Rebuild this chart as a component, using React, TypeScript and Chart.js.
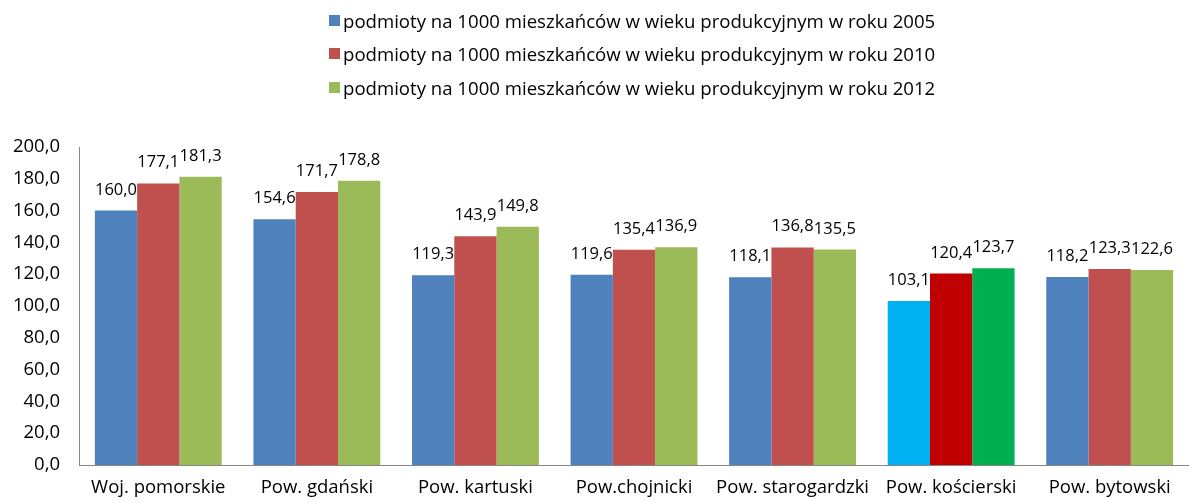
import React, { useEffect, useRef } from 'react';
import { Chart, registerables } from 'chart.js';

Chart.register(...registerables);

const categories = [
  'Woj. pomorskie',
  'Pow. gdański',
  'Pow. kartuski',
  'Pow.chojnicki',
  'Pow. starogardzki',
  'Pow. kościerski',
  'Pow. bytowski',
];
const values2005 = [160.0, 154.6, 119.3, 119.6, 118.1, 103.1, 118.2];
const values2010 = [177.1, 171.7, 143.9, 135.4, 136.8, 120.4, 123.3];
const values2012 = [181.3, 178.8, 149.8, 136.9, 135.5, 123.7, 122.6];
const seriesLabels = [
  'podmioty na 1000 mieszkańców w wieku produkcyjnym w roku 2005',
  'podmioty na 1000 mieszkańców w wieku produkcyjnym w roku 2010',
  'podmioty na 1000 mieszkańców w wieku produkcyjnym w roku 2012',
];
const baseColors = ['#4F81BD', '#C0504D', '#9BBB59'];
const highlightColors = ['#00B0F0', '#C00000', '#00B050'];
const highlightCategory = 'Pow. kościerski';
const yMin = 0;
const yMax = 200;
const yStep = 20;

const FONT = '"Open Sans", "Noto Sans", sans-serif';

const fmt = (v: number) => v.toFixed(1).replace('.', ',');

const valueLabelPlugin = {
  id: 'valueLabels',
  afterDatasetsDraw(chart: any) {
    const ctx = chart.ctx;
    ctx.save();
    ctx.font = `16.5px ${FONT}`;
    ctx.fillStyle = '#000000';
    ctx.textAlign = 'center';
    ctx.textBaseline = 'alphabetic';
    chart.data.datasets.forEach((ds: any, di: number) => {
      const meta = chart.getDatasetMeta(di);
      meta.data.forEach((el: any, i: number) => {
        ctx.fillText(fmt(ds.data[i]), el.x, el.y - 16);
      });
    });
    ctx.restore();
  },
};

export default function App() {
  const canvasRef = useRef<HTMLCanvasElement>(null);

  useEffect(() => {
    document.body.style.margin = '0';
    const canvas = canvasRef.current;
    if (!canvas) return;
    const seriesValues = [values2005, values2010, values2012];
    const chart = new Chart(canvas, {
      type: 'bar',
      data: {
        labels: categories,
        datasets: seriesValues.map((vals, si) => ({
          label: seriesLabels[si],
          data: vals,
          backgroundColor: categories.map((c) =>
            c === highlightCategory ? highlightColors[si] : baseColors[si]
          ),
          borderWidth: 0,
          categoryPercentage: 0.8,
          barPercentage: 1.0,
        })),
      },
      options: {
        responsive: false,
        animation: false,
        devicePixelRatio: 1,
        layout: { padding: { top: 147, left: 0, right: 0, bottom: 0 } },
        plugins: {
          legend: { display: false },
          tooltip: { enabled: false },
          title: { display: false },
        },
        scales: {
          x: {
            grid: { display: false, drawTicks: false },
            border: { display: true, color: '#868686', width: 1 },
            ticks: {
              color: '#000000',
              font: { family: FONT, size: 18.5 },
              padding: 12,
              maxRotation: 0,
              autoSkip: false,
            },
            afterFit: (scale: any) => {
              scale.height = 38;
            },
          },
          y: {
            min: yMin,
            max: yMax,
            grid: { display: false, drawTicks: false },
            border: { display: true, color: '#868686', width: 1 },
            ticks: {
              stepSize: yStep,
              color: '#000000',
              font: { family: FONT, size: 18.5 },
              padding: 19,
              callback: (v: any) => fmt(Number(v)),
            },
            afterFit: (scale: any) => {
              scale.width = 79;
            },
          },
        },
      },
      plugins: [valueLabelPlugin],
    });
    return () => chart.destroy();
  }, []);

  return (
    <div style={{ position: 'relative', width: 1189, height: 503, background: '#ffffff', overflow: 'hidden' }}>
      <canvas ref={canvasRef} width={1189} height={503} style={{ position: 'absolute', left: 0, top: 0 }} />
      <div style={{ position: 'absolute', left: 329, top: 6, fontFamily: FONT, fontSize: 18.6, color: '#000' }}>
        {seriesLabels.map((lab, i) => (
          <div key={lab} style={{ display: 'flex', alignItems: 'center', height: 28, marginBottom: i < 2 ? 5.5 : 0 }}>
            <span style={{ display: 'inline-block', width: 11, height: 11, background: baseColors[i], marginRight: 3 }} />
            <span style={{ whiteSpace: 'nowrap' }}>{lab}</span>
          </div>
        ))}
      </div>
    </div>
  );
}
